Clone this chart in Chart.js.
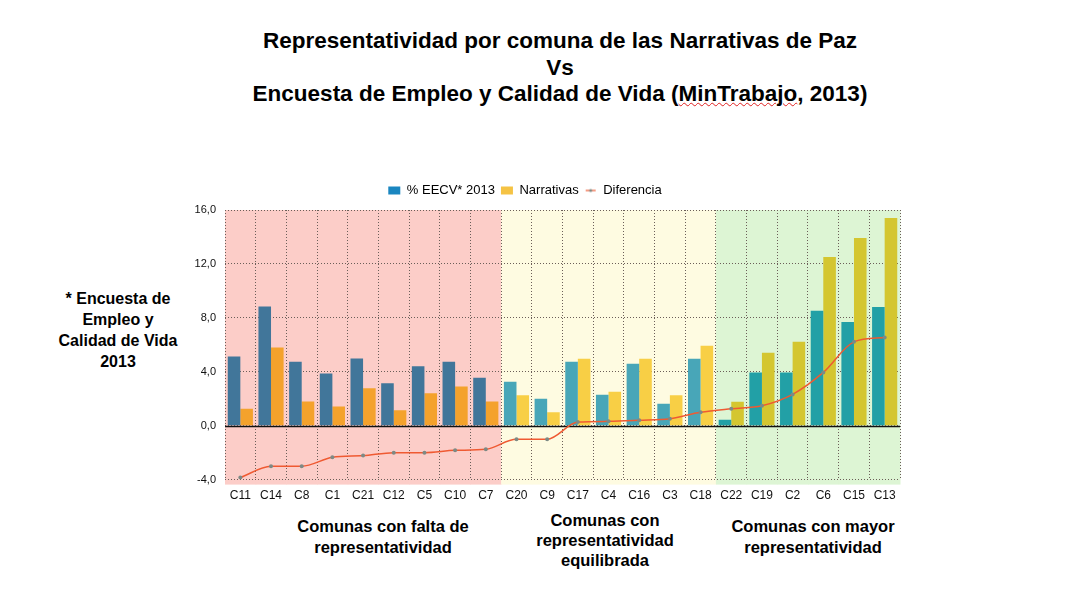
<!DOCTYPE html>
<html>
<head>
<meta charset="utf-8">
<script src="https://cdn.jsdelivr.net/npm/chart.js@4.4.0/dist/chart.umd.min.js"></script>
<style>
  body { margin: 0; background: #fff; font-family: "Liberation Sans", Arial, sans-serif; }
  #page { position: relative; width: 1069px; height: 602px; overflow: hidden; }
  .t { position: absolute; font-weight: bold; color: #000; text-align: center; }
  #titulo { left: 0; width: 1120px; top: 28px; font-size: 22.5px; line-height: 26.5px; }
  .err { text-decoration: underline wavy #e02020; text-decoration-thickness: 1px; }
  #nota { left: 28px; width: 180px; top: 288px; font-size: 16px; line-height: 21px; }
  #g1 { left: 273px; width: 220px; top: 516px; font-size: 16.5px; line-height: 21px; }
  #g2 { left: 495px; width: 220px; top: 510px; font-size: 16.5px; line-height: 20px; }
  #g3 { left: 703px; width: 220px; top: 516px; font-size: 16.5px; line-height: 21px; }
  #wrap { position: absolute; left: 150px; top: 178px; width: 760px; height: 334px; }
</style>
</head>
<body>
<div id="page">
  <div id="titulo" class="t">Representatividad por comuna de las Narrativas de Paz<br>Vs<br>Encuesta de Empleo y Calidad de Vida (<span class="err">MinTrabajo</span>, 2013)</div>
  <div id="nota" class="t">* Encuesta de<br>Empleo y<br>Calidad de Vida<br>2013</div>
  <div id="g1" class="t">Comunas con falta de<br>representatividad</div>
  <div id="g2" class="t">Comunas con<br>representatividad<br>equilibrada</div>
  <div id="g3" class="t">Comunas con mayor<br>representatividad</div>
  <div id="wrap"><canvas id="grafico"></canvas></div>
</div>
<script>
// comunas ordenadas por diferencia
const comunas = ['C11','C14','C8','C1','C21','C12','C5','C10','C7',
                 'C20','C9','C17','C4','C16','C3','C18',
                 'C22','C19','C2','C6','C15','C13'];
const eecv = [5.14, 8.84, 4.74, 3.88, 4.99, 3.14, 4.40, 4.74, 3.56,
              3.26, 2.00, 4.74, 2.30, 4.59, 1.63, 4.96,
              0.44, 3.95, 3.95, 8.52, 7.70, 8.81];
const narrativas = [1.26, 5.80, 1.80, 1.43, 2.77, 1.14, 2.40, 2.91, 1.80,
                    2.25, 0.99, 4.96, 2.52, 4.96, 2.25, 5.93,
                    1.78, 5.41, 6.22, 12.52, 13.93, 15.41];
const diferencia = [-3.85, -3.01, -3.01, -2.35, -2.22, -2.00, -2.00, -1.83, -1.75,
                    -1.01, -1.01, 0.27, 0.32, 0.40, 0.52, 0.99,
                    1.26, 1.48, 2.32, 3.95, 6.22, 6.54];
// grupo de cada comuna: 0 falta, 1 equilibrada, 2 mayor
const grupo = [0,0,0,0,0,0,0,0,0, 1,1,1,1,1,1,1, 2,2,2,2,2,2];
const yTicks = [-4, 0, 4, 8, 12, 16];

const fondos = ['#fccdc8', '#fefbe1', '#ddf5d4'];
const azules = ['#41769a', '#48a6b8', '#22a0a6'];
const amarillos = ['#f4a22c', '#f8cf45', '#d4c630'];

// icono de la linea en la leyenda
const icono = document.createElement('canvas');
icono.width = 12; icono.height = 6;
(function () {
  const c = icono.getContext('2d');
  c.strokeStyle = '#ef5a32'; c.lineWidth = 1.2;
  c.beginPath(); c.moveTo(1, 3); c.lineTo(11, 3); c.stroke();
  c.fillStyle = '#7d8a85';
  c.beginPath(); c.arc(6, 3, 1.5, 0, Math.PI * 2); c.fill();
})();

const bandas = {
  id: 'bandas',
  beforeInit(chart) {
    const fit = chart.legend.fit;
    chart.legend.fit = function () { fit.call(this); this.height += 3; };
  },
  beforeDraw(chart) {
    const ctx = chart.ctx, x = chart.scales.x, a = chart.chartArea;
    const w = x.getPixelForValue(1) - x.getPixelForValue(0);
    ctx.save();
    for (let i = 0; i < comunas.length; i++) {
      const cx = x.getPixelForValue(i);
      ctx.fillStyle = fondos[grupo[i]];
      ctx.fillRect(cx - w / 2, a.top, w + 0.5, a.bottom - a.top + 5);
    }
    ctx.restore();
  },
  beforeDatasetsDraw(chart) {
    const ctx = chart.ctx, y = chart.scales.y, a = chart.chartArea;
    const y0 = Math.round(y.getPixelForValue(0)) + 0.5;
    ctx.save();
    ctx.strokeStyle = '#111';
    ctx.lineWidth = 1.5;
    ctx.beginPath();
    ctx.moveTo(a.left, y0);
    ctx.lineTo(a.right, y0);
    ctx.stroke();
    ctx.restore();
  }
};

new Chart(document.getElementById('grafico'), {
  data: {
    labels: comunas,
    datasets: [
      {
        type: 'line',
        label: 'Diferencia',
        data: diferencia,
        borderColor: '#ef5a32',
        borderWidth: 1.5,
        pointRadius: 2,
        pointBackgroundColor: '#7d8a85',
        pointBorderWidth: 0,
        cubicInterpolationMode: 'monotone',
        order: 0
      },
      {
        type: 'bar',
        label: '% EECV* 2013',
        data: eecv,
        backgroundColor: grupo.map(g => azules[g]),
        categoryPercentage: 0.82,
        barPercentage: 1.0,
        order: 1
      },
      {
        type: 'bar',
        label: 'Narrativas',
        data: narrativas,
        backgroundColor: grupo.map(g => amarillos[g]),
        categoryPercentage: 0.82,
        barPercentage: 1.0,
        order: 1
      }
    ]
  },
  options: {
    responsive: true,
    maintainAspectRatio: false,
    animation: false,
    layout: { padding: { left: 0, right: 10, top: 0, bottom: 0 } },
    plugins: {
      tooltip: { enabled: false },
      legend: {
        position: 'top',
        labels: {
          color: '#111',
          font: { family: 'Liberation Sans', size: 13 },
          usePointStyle: true,
          pointStyleWidth: 12,
          boxHeight: 8,
          padding: 6,
          generateLabels() {
            return [
              { text: '% EECV* 2013', fillStyle: '#1a86c0', strokeStyle: '#1a86c0', lineWidth: 0, pointStyle: 'rect' },
              { text: 'Narrativas', fillStyle: '#f5c344', strokeStyle: '#f5c344', lineWidth: 0, pointStyle: 'rect' },
              { text: 'Diferencia', fillStyle: '#ef5a32', strokeStyle: '#ef5a32', lineWidth: 0, pointStyle: icono }
            ];
          }
        }
      }
    },
    scales: {
      x: {
        grid: { color: '#6b5e58', lineWidth: 1, offset: true, drawTicks: false },
        border: { display: false, dash: [1, 2] },
        ticks: { color: '#111', font: { family: 'Liberation Sans', size: 12 }, padding: 9, maxRotation: 0, autoSkip: false }
      },
      y: {
        min: -4,
        max: 16,
        afterBuildTicks(s) { s.ticks = yTicks.map(v => ({ value: v })); },
        afterFit(s) { s.width = 75; },
        grid: { color: '#6b5e58', lineWidth: 1, drawTicks: false },
        border: { display: false, dash: [1, 2] },
        ticks: {
          color: '#111',
          font: { family: 'Liberation Sans', size: 11 },
          padding: 9,
          callback: v => v.toFixed(1).replace('.', ',')
        }
      }
    }
  },
  plugins: [bandas]
});
</script>
</body>
</html>
